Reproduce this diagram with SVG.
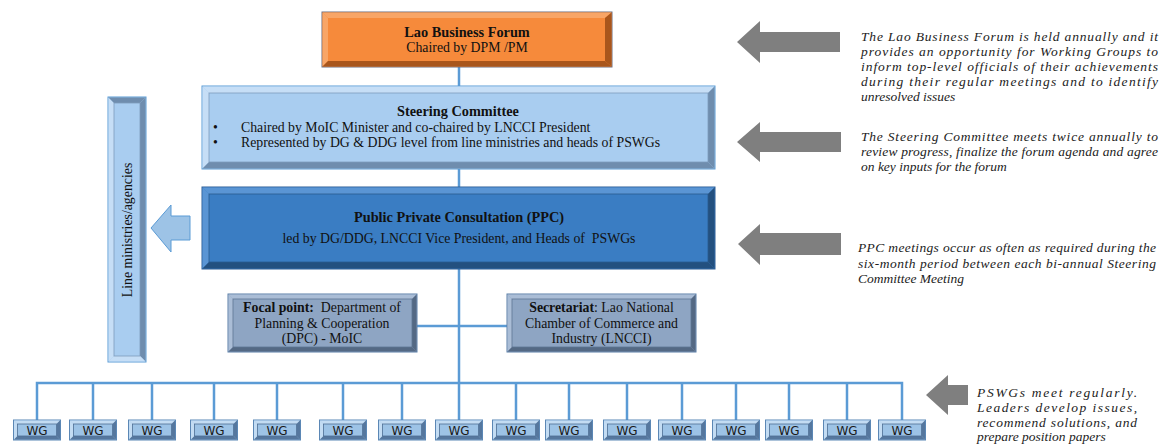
<svg xmlns="http://www.w3.org/2000/svg" xmlns:xlink="http://www.w3.org/1999/xlink" width="1162" height="445" viewBox="0 0 1162 445">
<style>
.t{font-family:"Liberation Serif","DejaVu Serif",serif;font-size:13.8px;fill:#111;}
.b{font-weight:bold;}
.c{text-anchor:middle;}
.ttl{font-size:14.3px;font-weight:bold;}
.note{font-family:"Liberation Serif","DejaVu Serif",serif;font-size:13.5px;font-style:italic;fill:#222;}
.wgt{font-family:"DejaVu Sans","Liberation Sans",sans-serif;font-size:12px;fill:#1a1a1a;text-anchor:middle;}
.con{stroke:#5B9BD5;stroke-width:2.5;fill:none;}
.garrow{fill:#7F7F7F;}
.or-f{fill:#F68A3B;stroke:#6C6F80;stroke-width:1;}
.or-l{fill:#F8A566;}
.or-d{fill:#A9561C;}
.sc-f{fill:#A9CDF0;stroke:#5B9BD5;stroke-width:1;}
.sc-l{fill:#C6DEF6;}
.sc-d{fill:#6F8DAE;}
.pp-f{fill:#3A7DC3;stroke:#2E5E95;stroke-width:1;}
.pp-l{fill:#5A95D4;}
.pp-d{fill:#23507F;}
.gb-f{fill:#8EA5C3;stroke:#5B7FA8;stroke-width:1;}
.gb-l{fill:#AABDD6;}
.gb-d{fill:#546984;}
.wg-f{fill:#9DC3E6;stroke:#5B87B5;stroke-width:1;}
.wg-l{fill:#C3DCF3;}
.wg-d{fill:#55779E;}
</style>
<defs>
<g id="wgshape">
<rect class="wg-f" x="0" y="0" width="47" height="20"/>
<polygon class="wg-l" points="0.5,0.5 46.5,0.5 43,4 4,4"/>
<polygon class="wg-l" points="0.5,0.5 4,4 4,16 0.5,19.5"/>
<polygon class="wg-d" points="0.5,19.5 4,16 43,16 46.5,19.5"/>
<polygon class="wg-d" points="46.5,0.5 46.5,19.5 43,16 43,4"/>
<rect x="4" y="4" width="39" height="12" fill="#9DC3E6" stroke="#4F6F94" stroke-width="0.8"/>
</g>
</defs>
<rect x="0" y="0" width="1162" height="445" fill="#ffffff"/>

<g id="connectors">
<line class="con" x1="459" y1="67" x2="459" y2="420"/>
<line class="con" x1="417" y1="326" x2="507" y2="326"/>
<polyline class="con" points="37,420 37,383 902,383 902,420"/>
<line class="con" x1="93" y1="383" x2="93" y2="420"/>
<line class="con" x1="152" y1="383" x2="152" y2="420"/>
<line class="con" x1="214" y1="383" x2="214" y2="420"/>
<line class="con" x1="277" y1="383" x2="277" y2="420"/>
<line class="con" x1="343" y1="383" x2="343" y2="420"/>
<line class="con" x1="402" y1="383" x2="402" y2="420"/>
<line class="con" x1="516" y1="383" x2="516" y2="420"/>
<line class="con" x1="569" y1="383" x2="569" y2="420"/>
<line class="con" x1="627" y1="383" x2="627" y2="420"/>
<line class="con" x1="682" y1="383" x2="682" y2="420"/>
<line class="con" x1="736" y1="383" x2="736" y2="420"/>
<line class="con" x1="789" y1="383" x2="789" y2="420"/>
<line class="con" x1="847" y1="383" x2="847" y2="420"/>
</g>

<g id="lao-business-forum">
<rect class="or-f" x="322" y="12" width="290" height="55"/>
<polygon class="or-l" points="322.5,12.5 611.5,12.5 605,18 328,18"/>
<polygon class="or-l" points="322.5,12.5 328,18 328,61 322.5,66.5"/>
<polygon class="or-d" points="322.5,66.5 328,61 605,61 611.5,66.5"/>
<polygon class="or-d" points="611.5,12.5 611.5,66.5 605,61 605,18"/>
<rect x="328" y="18" width="277" height="43" fill="#F68A3B"/>
<text class="t c ttl" x="467" y="37">Lao Business Forum</text>
<text class="t c" x="467" y="52" font-size="14">Chaired by DPM /PM</text>
</g>

<g id="steering-committee">
<rect class="sc-f" x="202" y="86" width="513" height="83"/>
<polygon class="sc-l" points="202.5,86.5 714.5,86.5 708,93 209,93"/>
<polygon class="sc-l" points="202.5,86.5 209,93 209,162 202.5,168.5"/>
<polygon class="sc-d" points="202.5,168.5 209,162 708,162 714.5,168.5"/>
<polygon class="sc-d" points="714.5,86.5 714.5,168.5 708,162 708,93"/>
<rect x="209" y="93" width="499" height="69" fill="#A9CDF0" stroke="#7E9CBC" stroke-width="0.8"/>
<text class="t c ttl" x="458" y="116">Steering Committee</text>
<text class="t" x="213" y="131.5">•</text>
<text class="t" x="241" y="131.5" font-size="13.6">Chaired by MoIC Minister and co-chaired by LNCCI President</text>
<text class="t" x="213" y="146.5">•</text>
<text class="t" x="241" y="146.5" font-size="13.6">Represented by DG &amp; DDG level from line ministries and heads of PSWGs</text>
</g>

<g id="ppc">
<rect class="pp-f" x="202" y="187" width="513" height="82"/>
<polygon class="pp-l" points="202.5,187.5 714.5,187.5 708,194 209,194"/>
<polygon class="pp-l" points="202.5,187.5 209,194 209,262 202.5,268.5"/>
<polygon class="pp-d" points="202.5,268.5 209,262 708,262 714.5,268.5"/>
<polygon class="pp-d" points="714.5,187.5 714.5,268.5 708,262 708,194"/>
<rect x="209" y="194" width="499" height="68" fill="#3A7DC3" stroke="#2A5A8E" stroke-width="0.8"/>
<text class="t c ttl" x="459" y="222">Public Private Consultation (PPC)</text>
<text class="t c" x="459" y="243">led by DG/DDG, LNCCI Vice President, and Heads of&#160; PSWGs</text>
</g>

<g id="line-ministries">
<rect class="sc-f" x="108" y="97" width="38" height="265"/>
<polygon class="sc-l" points="108.5,97.5 114,103 114,356 108.5,361.5"/>
<polygon class="sc-d" points="108.5,97.5 145.5,97.5 140,103 114,103"/>
<polygon class="sc-d" points="145.5,97.5 145.5,361.5 140,356 140,103"/>
<polygon class="sc-l" points="108.5,361.5 114,356 140,356 145.5,361.5"/>
<rect x="114" y="103" width="26" height="253" fill="#A9CDF0" stroke="#7E9CBC" stroke-width="0.8"/>
<text class="t c" transform="translate(132,230) rotate(-90)" font-size="12.5">Line ministries/agencies</text>
</g>

<g id="left-arrow">
<polygon points="151,228 171,205 171,216 190,216 190,240 171,240 171,252" fill="#9DC3E6" stroke="#5B9BD5" stroke-width="1"/>
</g>

<g id="focal-point">
<rect class="gb-f" x="228" y="294" width="189" height="58"/>
<polygon class="gb-l" points="228.5,294.5 416.5,294.5 412,299 233,299"/>
<polygon class="gb-l" points="228.5,294.5 233,299 233,347 228.5,351.5"/>
<polygon class="gb-d" points="228.5,351.5 233,347 412,347 416.5,351.5"/>
<polygon class="gb-d" points="416.5,294.5 416.5,351.5 412,347 412,299"/>
<rect x="233" y="299" width="179" height="48" fill="#8EA5C3" stroke="#5E7593" stroke-width="0.8"/>
<text class="t c" x="322" y="312"><tspan class="b">Focal point:</tspan>&#160; Department of</text>
<text class="t c" x="322" y="328">Planning &amp; Cooperation</text>
<text class="t c" x="322" y="343">(DPC) - MoIC</text>
</g>

<g id="secretariat">
<rect class="gb-f" x="507" y="294" width="189" height="58"/>
<polygon class="gb-l" points="507.5,294.5 695.5,294.5 691,299 512,299"/>
<polygon class="gb-l" points="507.5,294.5 512,299 512,347 507.5,351.5"/>
<polygon class="gb-d" points="507.5,351.5 512,347 691,347 695.5,351.5"/>
<polygon class="gb-d" points="695.5,294.5 695.5,351.5 691,347 691,299"/>
<rect x="512" y="299" width="179" height="48" fill="#8EA5C3" stroke="#5E7593" stroke-width="0.8"/>
<text class="t c" x="601.5" y="312"><tspan class="b">Secretariat</tspan>: Lao National</text>
<text class="t c" x="601.5" y="328">Chamber of Commerce and</text>
<text class="t c" x="601.5" y="343">Industry (LNCCI)</text>
</g>

<g id="wg-1"><use xlink:href="#wgshape" x="13.5" y="420"/><text class="wgt" x="37" y="435">WG</text></g>
<g id="wg-2"><use xlink:href="#wgshape" x="69.5" y="420"/><text class="wgt" x="93" y="435">WG</text></g>
<g id="wg-3"><use xlink:href="#wgshape" x="128.5" y="420"/><text class="wgt" x="152" y="435">WG</text></g>
<g id="wg-4"><use xlink:href="#wgshape" x="190.5" y="420"/><text class="wgt" x="214" y="435">WG</text></g>
<g id="wg-5"><use xlink:href="#wgshape" x="253.5" y="420"/><text class="wgt" x="277" y="435">WG</text></g>
<g id="wg-6"><use xlink:href="#wgshape" x="319.5" y="420"/><text class="wgt" x="343" y="435">WG</text></g>
<g id="wg-7"><use xlink:href="#wgshape" x="378.5" y="420"/><text class="wgt" x="402" y="435">WG</text></g>
<g id="wg-8"><use xlink:href="#wgshape" x="435.5" y="420"/><text class="wgt" x="459" y="435">WG</text></g>
<g id="wg-9"><use xlink:href="#wgshape" x="492.5" y="420"/><text class="wgt" x="516" y="435">WG</text></g>
<g id="wg-10"><use xlink:href="#wgshape" x="545.5" y="420"/><text class="wgt" x="569" y="435">WG</text></g>
<g id="wg-11"><use xlink:href="#wgshape" x="603.5" y="420"/><text class="wgt" x="627" y="435">WG</text></g>
<g id="wg-12"><use xlink:href="#wgshape" x="658.5" y="420"/><text class="wgt" x="682" y="435">WG</text></g>
<g id="wg-13"><use xlink:href="#wgshape" x="712.5" y="420"/><text class="wgt" x="736" y="435">WG</text></g>
<g id="wg-14"><use xlink:href="#wgshape" x="765.5" y="420"/><text class="wgt" x="789" y="435">WG</text></g>
<g id="wg-15"><use xlink:href="#wgshape" x="823.5" y="420"/><text class="wgt" x="847" y="435">WG</text></g>
<g id="wg-16"><use xlink:href="#wgshape" x="878.5" y="420"/><text class="wgt" x="902" y="435">WG</text></g>

<g id="note-forum">
<polygon class="garrow" points="737,42 760,21 760,32 840,32 840,52 760,52 760,63"/>
<text class="note" x="861" y="40.5" textLength="297" lengthAdjust="spacing">The Lao Business Forum is held annually and it</text>
<text class="note" x="861" y="56" textLength="297" lengthAdjust="spacing">provides an opportunity for Working Groups to</text>
<text class="note" x="861" y="71" textLength="297" lengthAdjust="spacing">inform top-level officials of their achievements</text>
<text class="note" x="861" y="86" textLength="297" lengthAdjust="spacing">during their regular meetings and to identify</text>
<text class="note" x="861" y="101">unresolved issues</text>
</g>

<g id="note-steering">
<polygon class="garrow" points="737,142 760,122 760,132 841,132 841,152 760,152 760,162"/>
<text class="note" x="861" y="141" textLength="297" lengthAdjust="spacing">The Steering Committee meets twice annually to</text>
<text class="note" x="861" y="156" textLength="297" lengthAdjust="spacing">review progress, finalize the forum agenda and agree</text>
<text class="note" x="861" y="171">on key inputs for the forum</text>
</g>

<g id="note-ppc">
<polygon class="garrow" points="738,244 760,224 760,233 841,233 841,255 760,255 760,265"/>
<text class="note" x="858" y="252" textLength="298" lengthAdjust="spacing">PPC meetings occur as often as required during the</text>
<text class="note" x="858" y="268" textLength="298" lengthAdjust="spacing">six-month period between each bi-annual Steering</text>
<text class="note" x="858" y="283">Committee Meeting</text>
</g>

<g id="note-pswg">
<polygon class="garrow" points="926,395 948,375 948,385 968,385 968,405 948,405 948,415"/>
<text class="note" x="977" y="397" textLength="160" lengthAdjust="spacing">PSWGs meet regularly.</text>
<text class="note" x="977" y="412" textLength="160" lengthAdjust="spacing">Leaders develop issues,</text>
<text class="note" x="977" y="427" textLength="160" lengthAdjust="spacing">recommend solutions, and</text>
<text class="note" x="977" y="441">prepare position papers</text>
</g>
</svg>
